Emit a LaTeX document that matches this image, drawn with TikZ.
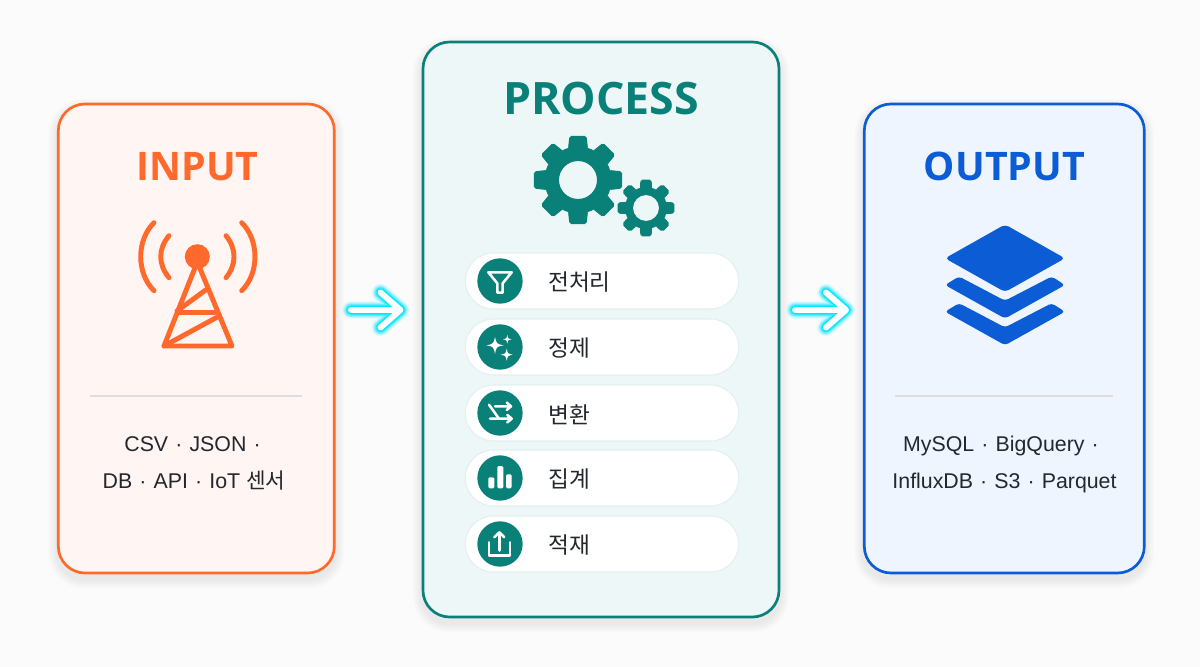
\documentclass[tikz,border=0pt]{standalone}
\usepackage{fontspec}
\setmainfont{Liberation Sans}
\newfontfamily\titlefont{Open Sans}
\newfontfamily\krfont{Noto Sans CJK KR}
\usetikzlibrary{arrows.meta,backgrounds}

\definecolor{inputc}{HTML}{FF6A2C}
\definecolor{inputbg}{HTML}{FFF5F2}
\definecolor{procc}{HTML}{0A8178}
\definecolor{procbg}{HTML}{EDF7F7}
\definecolor{outc}{HTML}{0B5CD5}
\definecolor{outbg}{HTML}{EEF5FE}
\definecolor{textc}{HTML}{23272E}
\definecolor{glowc}{HTML}{00E6FF}

\tikzset{
  panel/.style={draw=#1,line width=2pt,rounded corners=20pt,inner sep=0pt},
  title/.style={font=\titlefont\fontsize{#1}{30}\selectfont\bfseries,anchor=base},
  title/.default=29.5,
  pill/.style={draw=procc!12,fill=white,line width=.8pt,rounded corners=21pt,minimum width=205pt,minimum height=42pt,inner sep=0pt},
  iconbg/.style={circle,fill=procc,minimum size=34pt,inner sep=0pt},
  pilltext/.style={font=\krfont\fontsize{17}{17}\selectfont,text=textc,anchor=west,inner sep=0pt},
  small/.style={font=\fontsize{16}{16}\selectfont,text=textc,inner sep=0pt,anchor=base},
  rule/.style={draw=black!13,line width=1pt},
  icon/.style={draw=white,line width=1.9pt,line cap=round,line join=round},
  tower/.style={draw=inputc,line width=3.7pt,line cap=round,line join=round},
}

% gear: centre, outer radius, root radius, hole radius
\newcommand{\geardraw}[4]{
  \fill[procc,even odd rule] #1 circle (#3) circle (#4);
  \foreach \a in {0,45,...,315}
    \fill[procc,rounded corners=1.5pt,shift={#1}] (\a-18:#3-1) -- (\a-11:#2) -- (\a+11:#2) -- (\a+18:#3-1) -- cycle;
}
% four point star: centre, radius
\newcommand{\stardraw}[2]{
  \fill[white,shift={#1}] (0,-#2) .. controls ({.17*#2},{-.17*#2}) .. (#2,0) .. controls ({.17*#2},{.17*#2}) .. (0,#2) .. controls ({-.17*#2},{.17*#2}) .. (-#2,0) .. controls ({-.17*#2},{-.17*#2}) .. (0,-#2) -- cycle;
}
% soft shadow under a node
\newcommand{\softshadow}[3]{
  \foreach \g in {1,2,...,9}
    \fill[#2,opacity=.006,rounded corners=#3+\g*.75pt]
      ([shift={(-\g,-\g+5)}]#1.north west) rectangle ([shift={(\g,\g+5)}]#1.south east);
}
% glowing arrow
\newcommand{\glowarrow}[2]{
  \foreach \w/\o in {13.5/.07,12/.12,10.5/.2,9/.35,7.5/.6,6/.8}
    \draw[glowc,line width=\w pt,opacity=\o,line cap=round,line join=round]
      (#1) -- (#2) ([shift={(-20,-17.5)}]#2) -- (#2) -- ([shift={(-20,17.5)}]#2);
  \draw[white,line width=4.4pt,line cap=round,line join=round]
    (#1) -- (#2) ([shift={(-20,-17.5)}]#2) -- (#2) -- ([shift={(-20,17.5)}]#2);
}

\begin{document}
\begin{tikzpicture}[x=.75pt,y=-.75pt]
  \useasboundingbox (0,0) rectangle (1200,667);

  % panels
  \node[panel=inputc,fill=inputbg,minimum width=207pt,minimum height=351.75pt] (input) at (196.3,338.5) {};
  \node[panel=procc,fill=procbg,minimum width=267pt,minimum height=431.25pt] (process) at (601,329.5) {};
  \node[panel=outc,fill=outbg,minimum width=210pt,minimum height=351.75pt] (output) at (1004.3,338.5) {};

  \begin{pgfonlayer}{background}
    \fill[black!1.5!white] (0,0) rectangle (1200,667);
    \softshadow{input}{black}{20pt}
    \softshadow{process}{black}{20pt}
    \softshadow{output}{black}{20pt}
  \end{pgfonlayer}

  % titles
  \node[title,text=inputc] (inputtitle) at (197.5,180.5) {INPUT};
  \node[title=33.5,text=procc] (processtitle) at (601,114.5) {PROCESS};
  \node[title,text=outc] (outputtitle) at (1004.5,180.5) {OUTPUT};

  % tower
  \fill[inputc] (197.3,256.7) circle (12.5);
  \draw[tower] (164,346) -- (197.3,262) -- (232,346) -- cycle;
  \draw[tower] (177.7,312.7) -- (215,312.7);
  \draw[tower] (177,311) -- (205.7,290);
  \draw[tower] (164,346) -- (218,316.7);
  \draw[tower] (154,222.7) .. controls (136.3,240) and (136.3,273.4) .. (154,290.7);
  \draw[tower] (169,235.7) .. controls (158,249) and (158,264.4) .. (169,277.7);
  \draw[tower] (241.7,222.7) .. controls (259.4,240) and (259.4,273.4) .. (241.7,290.7);
  \draw[tower] (226,235.7) .. controls (236.7,249) and (236.7,264.4) .. (226,277.7);

  % separators
  \coordinate (inrulea) at (90,396);
  \coordinate (inruleb) at (302,396);
  \coordinate (outrulea) at (895,396);
  \coordinate (outruleb) at (1113,396);
  \draw[rule] (inrulea) -- (inruleb);
  \draw[rule] (outrulea) -- (outruleb);

  % lists
  \node[small] (inputa) at (192.5,451) {CSV\,\,·\,\,JSON\,\,·};
  \node[small] (inputb) at (194,488.5) {DB\,\,·\,\,API\,\,·\,\,IoT {\krfont 센서}};
  \node[small] (outputa) at (1001,451) {MySQL\,\,·\,\,BigQuery\,\,·};
  \node[small] (outputb) at (1004.5,488.5) {InfluxDB\,\,·\,\,S3\,\,·\,\,Parquet};

  % gears
  \geardraw{(578,180)}{45}{33.5}{19}
  \geardraw{(646,208)}{29}{21}{13}

  % steps
  \foreach \name/\yy/\txt in {a/281/전처리,b/347/정제,c/413/변환,d/478/집계,e/544/적재}{
    \node[pill] (pill\name) at (602,\yy) {};
    \node[iconbg] (icon\name) at (500,\yy) {};
    \node[pilltext,yshift=-1pt] (label\name) at (548,\yy) {\txt};
    \begin{pgfonlayer}{background}
      \softshadow{pill\name}{procc}{21pt}
    \end{pgfonlayer}
  }

  % filter
  \begin{scope}[shift={(500,281)}]
    \draw[icon] (-11.7,-8.7) -- (11.7,-8.7) -- (2.7,2.3) -- (2.7,11.7) -- (-2.7,11.7) -- (-2.7,2.3) -- cycle;
  \end{scope}
  % sparkles
  \stardraw{(495,345.3)}{8.5}
  \stardraw{(507.3,339.3)}{4.4}
  \stardraw{(506.7,354.7)}{6}
  % shuffle
  \begin{scope}[shift={(500,413)}]
    \draw[icon] (-5,-6.7) -- (11,-6.7) (6.7,-10.5) -- (11,-6.7) -- (6.7,-3);
    \draw[icon] (-10,5.7) -- (11.7,5.7) (7.3,2) -- (11.7,5.7) -- (7.3,9.4);
    \draw[icon] (-11,-8.3) -- (-1,5.7);
  \end{scope}
  % bars
  \begin{scope}[shift={(500,478)}]
    \fill[white,rounded corners=1pt] (-11.7,-.7) rectangle (-5.7,10.3);
    \fill[white,rounded corners=1pt] (-2.7,-12) rectangle (3.3,10.3);
    \fill[white,rounded corners=1pt] (6,-3.7) rectangle (11.7,10.3);
  \end{scope}
  % upload
  \begin{scope}[shift={(500,544)}]
    \draw[icon] (-11,-1.7) -- (-11,11.7) -- (10,11.7) -- (10,-1.7);
    \draw[icon] (-.5,6.7) -- (-.5,-11.7) (-5.7,-6.7) -- (-.5,-11.7) -- (4.3,-6.7);
  \end{scope}

  % layers
  \fill[outc,rounded corners=3pt] (1005,224.5) -- (1065,258.3) -- (1005,292) -- (945,258.3) -- cycle;
  \foreach \dy in {0,26.7}
    \fill[outc,rounded corners=2.5pt,yshift=-\dy*.75pt] (959,276.5) -- (1005,300.7) -- (1051.7,276.5) -- (1065,285) -- (1005,318.5) -- (945,285) -- cycle;

  % arrows
  \coordinate (arrowa) at (351,310);
  \coordinate (arrowb) at (400.5,310);
  \coordinate (arrowc) at (795,310);
  \coordinate (arrowd) at (846,310);
  \glowarrow{arrowa}{arrowb}
  \glowarrow{arrowc}{arrowd}
\end{tikzpicture}
\end{document}
